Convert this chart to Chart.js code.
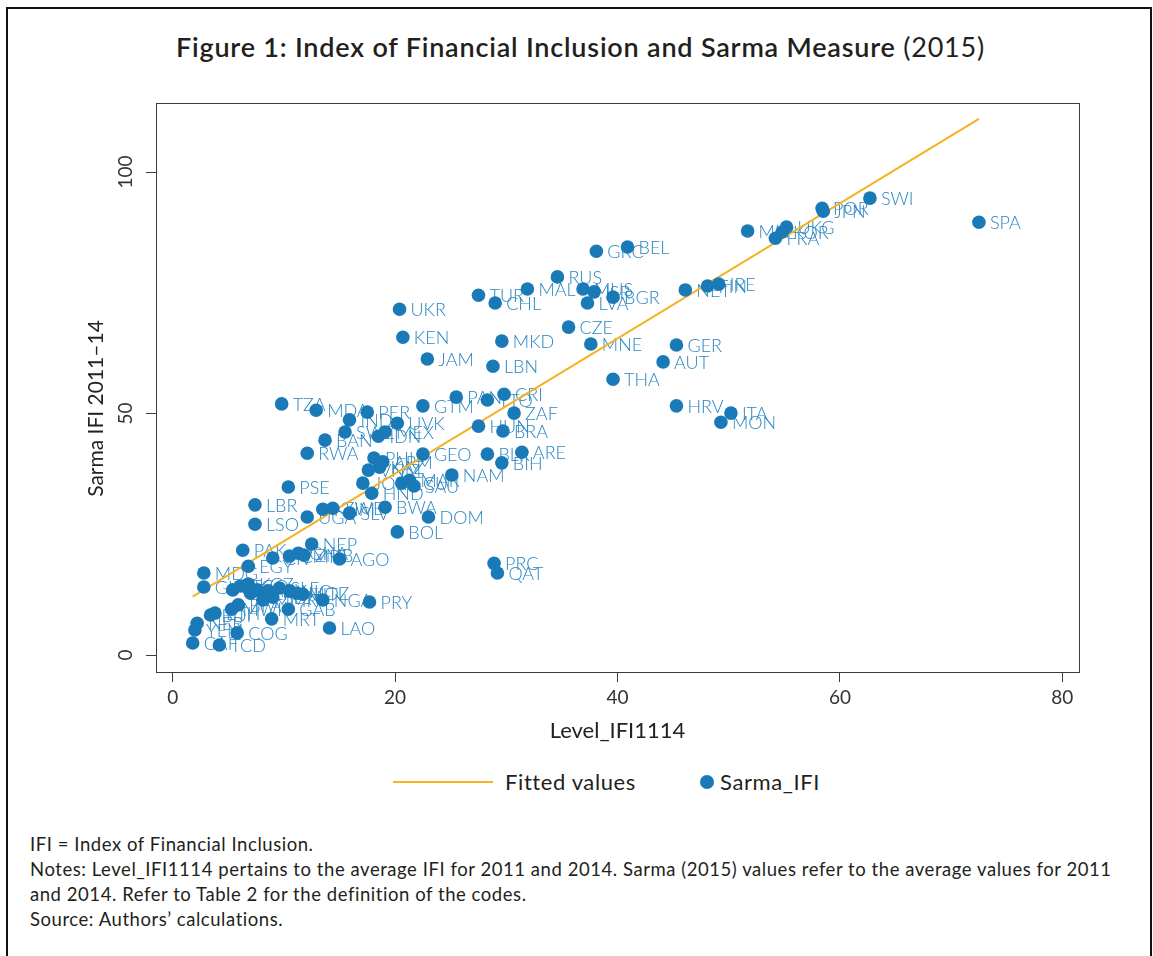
<!DOCTYPE html>
<html>
<head>
<meta charset="utf-8">
<script src="https://cdn.jsdelivr.net/npm/chart.js@4.4.0/dist/chart.umd.min.js"></script>
<style>
body { margin: 0; background: #fff; }
#page { position: relative; width: 1153px; height: 956px; overflow: hidden; font-family: Lato, "Open Sans", sans-serif; color: #231f20; }
#frame { position: absolute; left: 6px; top: 7px; width: 1142px; height: 980px; border: 2px solid #111; border-bottom: none; }
#title { position: absolute; left: 4px; top: 30px; width: 1153px; text-align: center; font-size: 27px; letter-spacing: 0.8px; line-height: 34px; font-weight: 600; white-space: nowrap; }
#title span { font-weight: 400; }
#myChart { position: absolute; left: 0; top: 0; }
.legLine { position: absolute; left: 393px; top: 781px; width: 100px; height: 2px; }
.legDot { position: absolute; left: 700px; top: 775px; width: 14px; height: 14px; border-radius: 50%; }
.legText { position: absolute; top: 768px; font-size: 22px; letter-spacing: 0.6px; line-height: 27px; white-space: nowrap; }
#notes { position: absolute; left: 30px; top: 832px; font-size: 18.5px; letter-spacing: 0.55px; line-height: 25px; white-space: nowrap; }
</style>
</head>
<body>
<div id="page">
  <div id="frame"></div>
  <div id="title">Figure 1: Index of Financial Inclusion and Sarma Measure <span>(2015)</span></div>
  <canvas id="myChart" width="1153" height="760"></canvas>
  <div id="legend"></div>
  <div id="notes">IFI = Index of Financial Inclusion.<br>Notes: Level_IFI1114 pertains to the average IFI for 2011 and 2014. Sarma (2015) values refer to the average values for 2011<br>and 2014. Refer to Table 2 for the definition of the codes.<br>Source: Authors’ calculations.</div>
</div>
<script>
// economy codes with the two indexes
var codes = ['SPA','SWI','POR','JPN','MLT','UKG','KOR','FRA','BEL','GRC',
    'RUS','MAL','TUR','CHL','UKR','MUS','ISR','BGR','LVA','CZE',
    'NET','FIN','IRE','GER','AUT','THA','MNE','HRV','ITA','MON',
    'KEN','MKD','JAM','LBN','CRI','PAN','TTO','GTM','ZAF','HUN',
    'BRA','BLR','ARE','BIH','GEO','NAM','MAR','SAU','ECU','JOR',
    'HND','BWA','DOM','BOL','PHL','ARM','KAZ','VNM','TZA','MDA',
    'PER','IND','UVK','SWZ','IDN','MEX','BAN','RWA','PSE','LBR',
    'LSO','UGA','KHM','ZWE','SLV','NEP','PAK','EGY','CIV','CMR',
    'GHA','ZMB','AGO','PRC','QAT','MDG','GIN','SEN','TGO','KGZ',
    'BEN','MLI','TJK','SLE','NIC','MOZ','HTI','MMR','SDN','NGA',
    'PRY','GAB','MRT','BFA','MWI','ETH','BDI','NER','YEM','CAF',
    'TCD','COG','LAO'];
var levelIfi = [72.5,62.7,58.4,58.5,51.7,55.2,54.8,54.2,40.9,38.1,
    34.6,31.9,27.5,29.0,20.4,36.9,37.9,39.6,37.3,35.6,
    46.1,48.1,49.1,45.3,44.1,39.6,37.6,45.3,50.2,49.3,
    20.7,29.6,22.9,28.8,29.8,25.5,28.3,22.5,30.7,27.5,
    29.7,28.3,31.4,29.6,22.5,25.1,21.3,21.7,20.6,17.1,
    17.9,19.1,23.0,20.2,18.1,18.9,18.6,17.6,9.8,12.9,
    17.5,15.9,20.2,15.5,18.5,19.1,13.7,12.1,10.4,7.4,
    7.4,12.1,13.5,14.4,15.9,12.5,6.3,6.8,9.0,10.5,
    11.3,11.8,15.0,28.9,29.2,2.8,2.8,5.4,6.1,6.8,
    7.0,7.6,8.6,9.6,10.5,11.2,11.7,8.1,9.0,13.5,
    17.7,10.4,8.9,5.9,5.3,3.8,3.4,2.2,2.0,1.8,
    4.2,5.8,14.1];
var sarmaIfi = [89.6,94.6,92.5,91.9,87.8,88.6,87.6,86.3,84.5,83.6,
    78.3,75.8,74.5,72.9,71.6,75.8,75.2,74.1,72.9,67.9,
    75.6,76.4,76.8,64.2,60.7,57.1,64.4,51.6,50.1,48.2,
    65.8,65.0,61.3,59.8,54.0,53.4,52.8,51.6,50.1,47.4,
    46.4,41.6,42.0,39.8,41.6,37.3,36.2,35.0,35.6,35.6,
    33.5,30.6,28.6,25.5,40.8,40.0,38.9,38.3,52.0,50.7,
    50.3,48.7,48.0,46.2,45.3,46.2,44.5,41.8,34.8,31.1,
    27.1,28.6,30.2,30.4,29.4,23.0,21.7,18.4,20.1,20.5,
    21.1,20.7,19.9,19.0,17.0,17.0,14.1,13.5,14.3,14.7,
    12.8,13.5,13.3,13.9,13.3,12.8,12.6,11.4,12.0,11.4,
    11.0,9.5,7.5,10.4,9.5,8.7,8.3,6.6,5.2,2.5,
    2.1,4.6,5.6];

// fitted values line (end points)
var fitX = [1.8, 72.5];
var fitY = [12.1, 111.0];

var xTicks = [0, 20, 40, 60, 80];
var yTicks = [0, 50, 100];

var dotColor = '#1a7ab8';
var labelColor = '#2a86c1';
var fitColor = '#f5b223';
var axisColor = '#3c3c3c';

var pointData = levelIfi.map(function(v, i) { return {x: v, y: sarmaIfi[i]}; });
var fitData = fitX.map(function(v, i) { return {x: v, y: fitY[i]}; });

// country code next to each marker
var codeLabels = {
    id: 'codeLabels',
    beforeDatasetsDraw: function(chart) {
        var meta = chart.getDatasetMeta(0);
        var c = chart.ctx;
        c.save();
        c.font = '300 18px Lato';
        c.fillStyle = labelColor;
        c.textBaseline = 'middle';
        meta.data.forEach(function(pt, i) {
            c.fillText(codes[i], pt.x + 11, pt.y + 1);
        });
        c.restore();
    }
};

// closed frame round the plot region
var plotBox = {
    id: 'plotBox',
    afterDraw: function(chart) {
        var a = chart.chartArea;
        var c = chart.ctx;
        c.save();
        c.strokeStyle = axisColor;
        c.lineWidth = 1;
        c.strokeRect(Math.round(a.left) + 0.5, Math.round(a.top) + 0.5, Math.round(a.right - a.left), Math.round(a.bottom - a.top));
        c.restore();
    }
};

var ctx = document.getElementById('myChart').getContext('2d');
var myChart = new Chart(ctx, {
    type: 'scatter',
    data: {
        datasets: [{
            label: 'Sarma_IFI',
            data: pointData,
            backgroundColor: dotColor,
            borderColor: dotColor,
            borderWidth: 0,
            pointRadius: 6.8,
            pointHoverRadius: 6.8
        }, {
            label: 'Fitted values',
            type: 'line',
            data: fitData,
            borderColor: fitColor,
            backgroundColor: fitColor,
            borderWidth: 2,
            pointRadius: 0,
            fill: false
        }]
    },
    options: {
        responsive: false,
        animation: false,
        devicePixelRatio: 1,
        layout: { padding: { left: 82, right: 74, top: 103, bottom: 16 } },
        plugins: {
            legend: { display: false },
            tooltip: { enabled: false }
        },
        scales: {
            x: {
                type: 'linear',
                min: -1.5,
                max: 81.5,
                afterBuildTicks: function(s) { s.ticks = xTicks.map(function(v) { return {value: v}; }); },
                afterFit: function(s) { s.height = 72; },
                grid: { drawOnChartArea: false, drawTicks: true, tickLength: 10, color: axisColor },
                border: { display: true, color: axisColor },
                ticks: { color: '#333', font: { family: 'Lato', size: 19 }, padding: 4, maxRotation: 0 },
                title: { display: true, text: 'Level_IFI1114', color: '#222', font: { family: 'Lato', size: 22 }, padding: 0 }
            },
            y: {
                type: 'linear',
                min: -3.5,
                max: 114.3,
                afterBuildTicks: function(s) { s.ticks = yTicks.map(function(v) { return {value: v}; }); },
                afterFit: function(s) { s.width = 74; },
                grid: { drawOnChartArea: false, drawTicks: true, tickLength: 10, color: axisColor },
                border: { display: true, color: axisColor },
                ticks: { color: '#333', font: { family: 'Lato', size: 19 }, padding: 4, minRotation: 90, maxRotation: 90, crossAlign: 'center' },
                // trailing spaces push the title a little below the middle, as in the source figure
                title: { display: true, text: 'Sarma IFI 2011–14\u2003\u2003\u2002', color: '#222', font: { family: 'Lato', size: 21 }, padding: { top: 2 } }
            }
        }
    },
    plugins: [codeLabels, plotBox]
});

// legend below the plot, taken from the datasets
var legend = document.getElementById('legend');
var fitSet = myChart.data.datasets[1];
var dotSet = myChart.data.datasets[0];
legend.innerHTML =
    '<div class="legLine" style="background:' + fitSet.borderColor + '"></div>' +
    '<div class="legText" style="left:505px">' + fitSet.label + '</div>' +
    '<div class="legDot" style="background:' + dotSet.backgroundColor + '"></div>' +
    '<div class="legText" style="left:720px">' + dotSet.label + '</div>';
</script>
</body>
</html>
